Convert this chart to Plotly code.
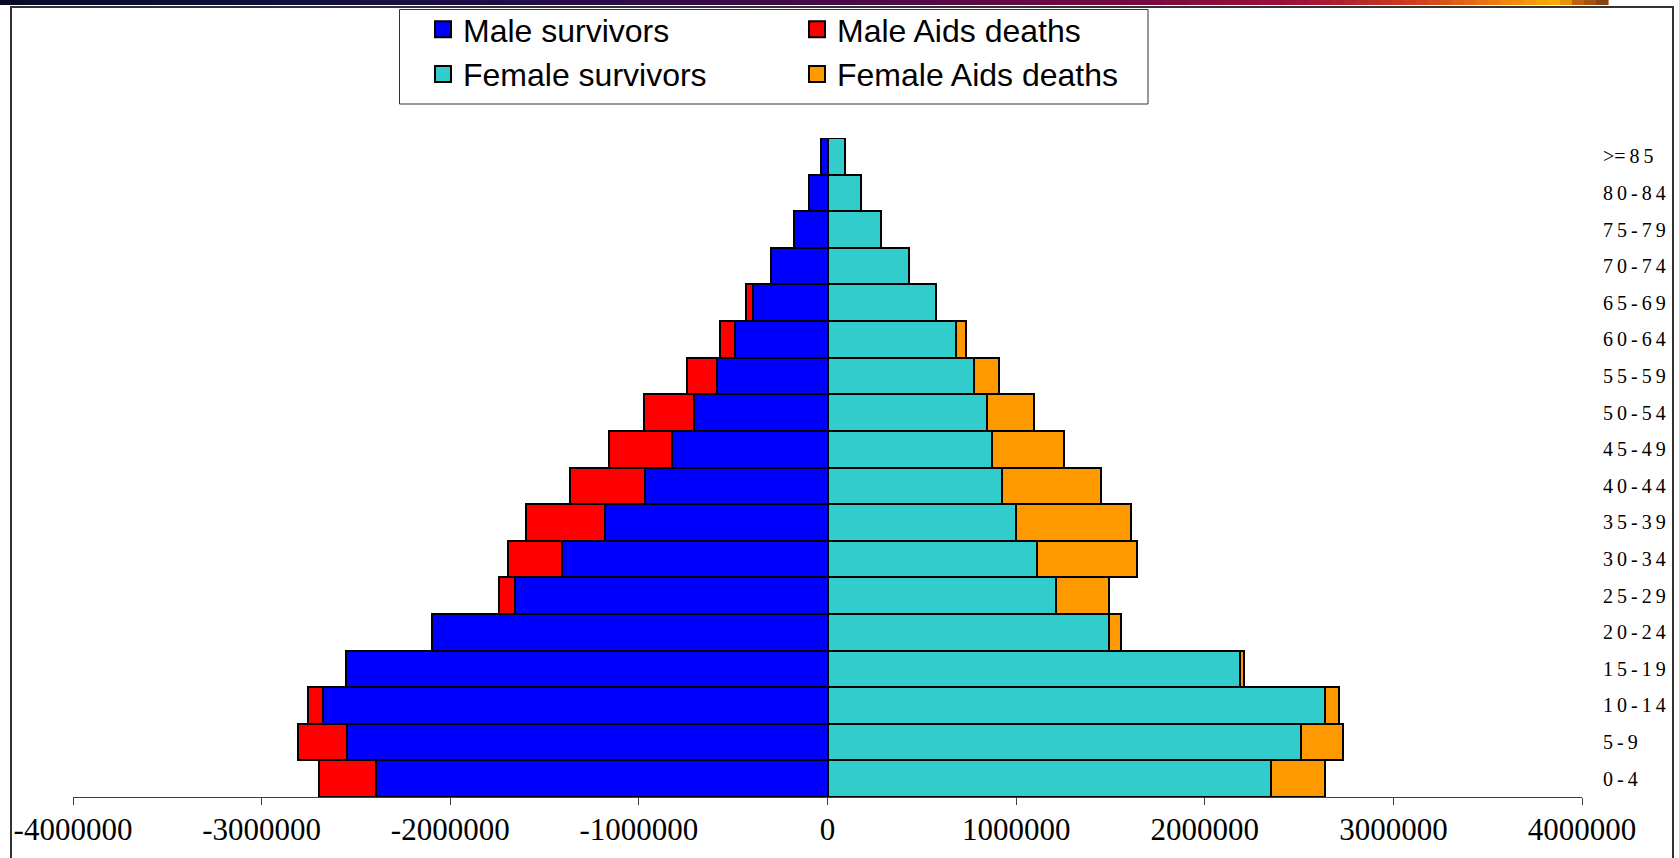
import plotly.graph_objects as go

# ---------------- data ----------------
age_groups = ["0-4", "5-9", "10-14", "15-19", "20-24", "25-29", "30-34", "35-39",
              "40-44", "45-49", "50-54", "55-59", "60-64", "65-69", "70-74",
              "75-79", "80-84", ">=85"]
male_survivors = [2393000, 2550000, 2675000, 2555000, 2095000, 1658000, 1408000, 1181000,
                  965000, 823000, 710000, 585000, 490000, 396000, 300000, 175000, 97000, 35000]
male_aids_deaths = [305000, 255000, 79000, 0, 0, 85000, 284000, 420000,
                    398000, 335000, 261000, 159000, 82000, 34000, 0, 0, 0, 0]
female_survivors = [2351000, 2510000, 2640000, 2186000, 1493000, 1210000, 1113000, 999000,
                    926000, 874000, 846000, 778000, 683000, 573000, 430000, 285000, 175000, 95000]
female_aids_deaths = [284000, 221000, 74000, 23000, 63000, 283000, 528000, 608000,
                      522000, 381000, 250000, 131000, 49000, 0, 0, 0, 0, 0]
x_tick_values = [-4000000, -3000000, -2000000, -1000000, 0, 1000000, 2000000, 3000000, 4000000]
x_tick_labels = [str(v) for v in x_tick_values]

series_names = ["Male survivors", "Male Aids deaths", "Female survivors", "Female Aids deaths"]
series_colors = ["#0000FF", "#FF0000", "#33CCCC", "#FF9900"]

# ---------------- layout geometry ----------------
W, H = 1679, 858
ML, MR, MT, MB = 73, 97, 138, 61
PW = W - ML - MR
PH = H - MT - MB


def px(xp):
    return (xp - ML) / PW


def py(yp):
    return (H - MB - yp) / PH


THIN = "\u2009"
y_tick_text = [THIN.join(a).replace(">" + THIN + "=", ">=") for a in age_groups]

fig = go.Figure()

outline = dict(color="black", width=2)
neg = lambda arr: [-v for v in arr]
fig.add_trace(go.Bar(y=age_groups, x=neg(male_survivors), orientation="h",
                     marker=dict(color=series_colors[0], line=outline), showlegend=False,
                     name=series_names[0]))
fig.add_trace(go.Bar(y=age_groups, x=neg(male_aids_deaths), orientation="h",
                     marker=dict(color=series_colors[1], line=outline), showlegend=False,
                     name=series_names[1]))
fig.add_trace(go.Bar(y=age_groups, x=female_survivors, orientation="h",
                     marker=dict(color=series_colors[2], line=outline), showlegend=False,
                     name=series_names[2]))
fig.add_trace(go.Bar(y=age_groups, x=female_aids_deaths, orientation="h",
                     marker=dict(color=series_colors[3], line=outline), showlegend=False,
                     name=series_names[3]))

# legend entries (two columns)
legend_ids = ["legend", "legend2", "legend", "legend2"]
for name, col, lg in zip(series_names, series_colors, legend_ids):
    fig.add_trace(go.Scatter(x=[None], y=[None], mode="markers", name=name, legend=lg,
                             marker=dict(symbol="square", size=16, color=col,
                                         line=dict(color="black", width=2))))

legend_common = dict(orientation="v", xref="container", yref="container",
                     xanchor="left", yanchor="top", bgcolor="rgba(0,0,0,0)",
                     borderwidth=0, traceorder="normal",
                     font=dict(family="Liberation Sans, Arial", size=32, color="black"))

shapes = []
# top decorative banner (gradient approximation)
stops = [(0, (10, 10, 40)), (300, (16, 16, 64)), (600, (42, 12, 72)), (900, (80, 10, 72)),
         (1150, (122, 10, 64)), (1300, (160, 16, 56)), (1420, (208, 64, 32)),
         (1500, (240, 128, 16)), (1560, (248, 176, 0)), (1575, (200, 100, 16)),
         (1608, (120, 60, 16))]


def interp(xp):
    for (x0, c0), (x1, c1) in zip(stops[:-1], stops[1:]):
        if x0 <= xp <= x1:
            t = (xp - x0) / (x1 - x0) if x1 > x0 else 0
            return "rgb(%d,%d,%d)" % tuple(round(a + (b - a) * t) for a, b in zip(c0, c1))
    return "rgb(120,60,16)"


step = 12
xp = 0
while xp < 1608:
    x2 = min(xp + step, 1608)
    shapes.append(dict(type="rect", xref="paper", yref="paper",
                       x0=px(xp), x1=px(x2 + 0.6), y0=py(5), y1=py(0),
                       fillcolor=interp((xp + x2) / 2), line=dict(width=0), layer="above"))
    xp = x2
# outer frame
shapes.append(dict(type="rect", xref="paper", yref="paper",
                   x0=px(11), x1=px(1673), y0=py(862), y1=py(7),
                   line=dict(color="#333333", width=2), fillcolor="rgba(0,0,0,0)", layer="below"))
# legend box
shapes.append(dict(type="rect", xref="paper", yref="paper",
                   x0=px(399.5), x1=px(1148), y0=py(104), y1=py(9.5),
                   line=dict(color="#333333", width=1), fillcolor="white", layer="below"))

fig.update_layout(
    width=W, height=H,
    margin=dict(l=ML, r=MR, t=MT, b=MB, pad=0, autoexpand=False),
    paper_bgcolor="white", plot_bgcolor="white",
    barmode="relative", bargap=0,
    showlegend=True,
    legend=dict(x=423 / W, y=1 - 2 / H, **legend_common),
    legend2=dict(x=797 / W, y=1 - 2 / H, **legend_common),
    shapes=shapes,
    xaxis=dict(range=[-4000000, 4000000], tickvals=x_tick_values, ticktext=x_tick_labels,
               tickangle=0, automargin=False, ticklabelstandoff=-2,
               showgrid=False, zeroline=False, showline=True, linecolor="#404040", linewidth=1,
               ticks="outside", ticklen=7, tickcolor="#404040", tickwidth=1,
               tickfont=dict(family="Liberation Serif, Times New Roman", size=31, color="black"),
               fixedrange=True),
    yaxis=dict(type="category", categoryorder="array", categoryarray=age_groups,
               range=[-0.5, 17.5], side="right", showgrid=False, zeroline=False,
               automargin=False,
               showline=False, ticks="", tickvals=age_groups, ticktext=y_tick_text,
               ticklabelstandoff=20,
               tickfont=dict(family="Liberation Serif, Times New Roman", size=20, color="black"),
               fixedrange=True),
)

fig.write_html("out.html", config={"displayModeBar": False},
               post_script="document.body.style.margin='0px';document.body.style.overflow='hidden';")
